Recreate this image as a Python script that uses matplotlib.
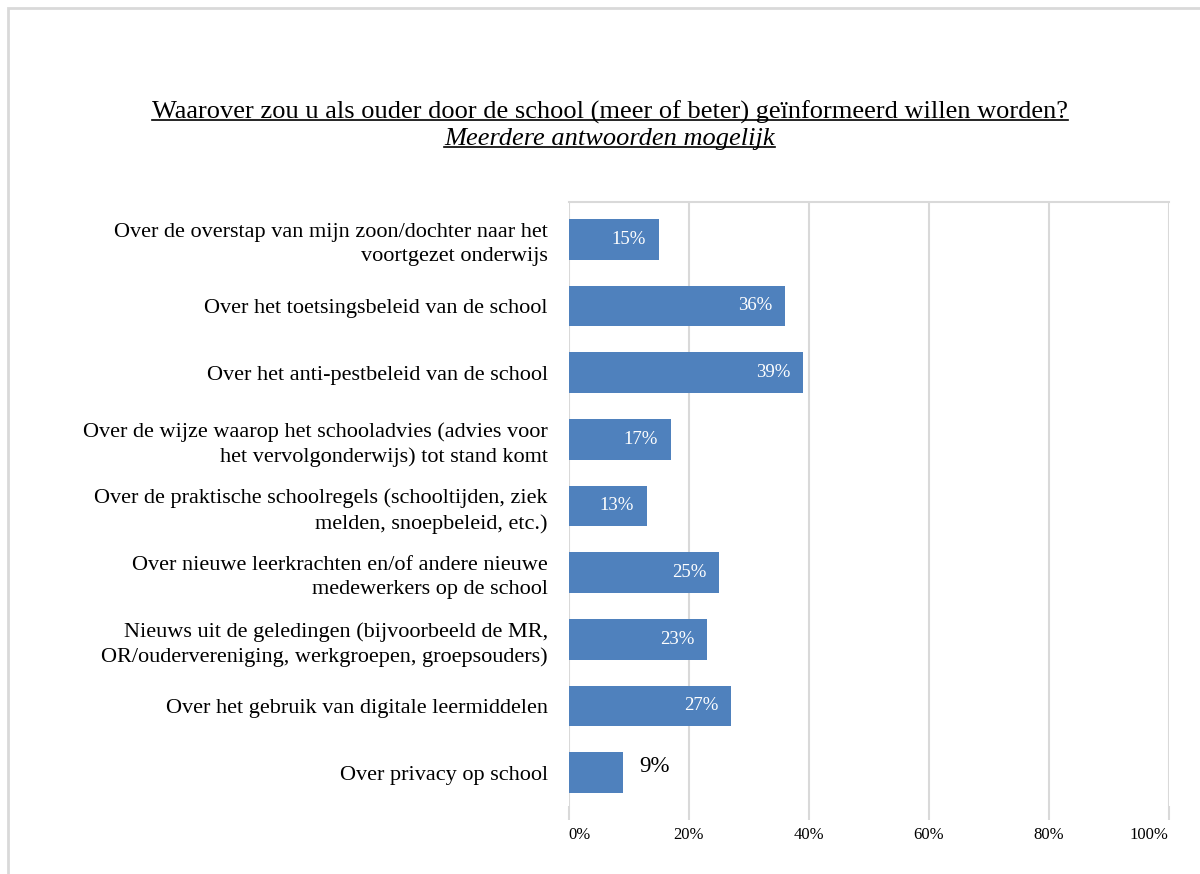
import matplotlib
matplotlib.use('Agg')
import matplotlib.pyplot as plt
from matplotlib.lines import Line2D
from matplotlib.patches import Rectangle

plt.rcParams['font.family'] = ['Liberation Serif', 'DejaVu Serif']

# survey answers, top to bottom
categories = [
    'Over de overstap van mijn zoon/dochter naar het\nvoortgezet onderwijs',
    'Over het toetsingsbeleid van de school',
    'Over het anti-pestbeleid van de school',
    'Over de wijze waarop het schooladvies (advies voor\nhet vervolgonderwijs) tot stand komt',
    'Over de praktische schoolregels (schooltijden, ziek\nmelden, snoepbeleid, etc.)',
    'Over nieuwe leerkrachten en/of andere nieuwe\nmedewerkers op de school',
    'Nieuws uit de geledingen (bijvoorbeeld de MR,\nOR/oudervereniging, werkgroepen, groepsouders)',
    'Over het gebruik van digitale leermiddelen',
    'Over privacy op school',
]
percentages = [15, 36, 39, 17, 13, 25, 23, 27, 9]
xticks = [0, 20, 40, 60, 80, 100]

title = 'Waarover zou u als ouder door de school (meer of beter) geïnformeerd willen worden?'
subtitle = 'Meerdere antwoorden mogelijk'

bar_color = '#4f81bd'
grid_color = '#d9d9d9'

fig = plt.figure(figsize=(12, 8.74), dpi=100)
ax = fig.add_axes([0.474, 1 - 806 / 874, 0.5, 604 / 874])

ypos = list(range(len(categories)))
ax.barh(ypos, percentages, height=0.61, color=bar_color, zorder=2)
ax.set_ylim(len(categories) - 0.5, -0.56)
ax.set_xlim(0, 100)

for i, v in enumerate(percentages):
    if v < 10:
        ax.text(v + 2.7, i - 0.1, f'{v}%', ha='left', va='center', fontsize=16.5, color='black')
    else:
        ax.text(v - 2.1, i, f'{v}%', ha='right', va='center', fontsize=13.5, color='white')

ax.set_yticks(ypos)
ax.set_yticklabels(categories, fontsize=16, linespacing=1.38)
ax.tick_params(axis='y', length=0, pad=15)

ax.set_xticks(xticks)
ax.set_xticklabels([f'{t}%' for t in xticks], fontsize=12)
ax.tick_params(axis='x', length=10, color=grid_color, width=1.5, pad=5)
labels = ax.get_xticklabels()
labels[0].set_ha('left')
labels[-1].set_ha('right')

ax.grid(axis='x', color=grid_color, linewidth=1.5, zorder=0)
for side in ['left', 'right', 'bottom']:
    ax.spines[side].set_visible(False)
ax.spines['top'].set_color(grid_color)
ax.spines['top'].set_linewidth(1.5)

# outer frame
fig.patches.append(Rectangle((8 / 1200, -0.05), 1.2, 1.05 - 8 / 874, transform=fig.transFigure,
                             fill=False, edgecolor=grid_color, linewidth=2))

t1 = fig.text(0.508, 1 - 112 / 874, title, ha='center', va='center', fontsize=19)
t2 = fig.text(0.508, 1 - 139 / 874, subtitle, ha='center', va='center', fontsize=19, style='italic')

# underline both title lines
fig.canvas.draw()
inv = fig.transFigure.inverted()
for t in (t1, t2):
    bb = t.get_window_extent()
    (x0, y0), (x1, _) = inv.transform([(bb.x0, bb.y0), (bb.x1, bb.y1)])
    yl = y0 + 3.5 / 874
    fig.lines.append(Line2D([x0, x1], [yl, yl], transform=fig.transFigure, color='black', linewidth=1.2))

fig.savefig('out.png', dpi=100)
